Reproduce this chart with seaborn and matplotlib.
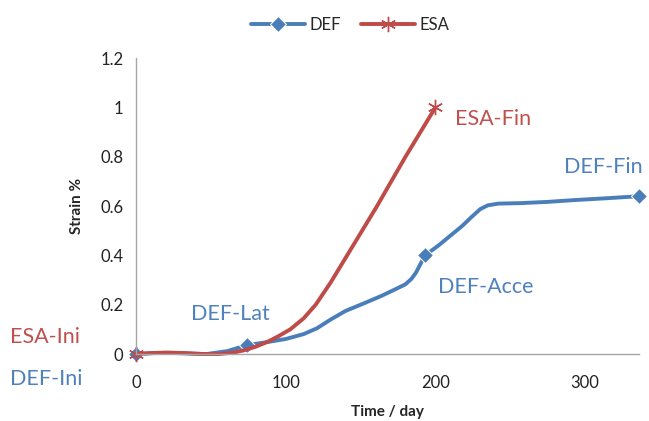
import matplotlib
matplotlib.use('Agg')
import matplotlib.pyplot as plt
import seaborn as sns
import pandas as pd

# DEF series
def_day = [0, 12, 23, 35, 47, 61, 74, 86, 100, 112, 121, 130, 140, 152, 164, 174, 180, 184, 187, 193,
           202, 210, 218, 224, 230, 235, 242, 257, 275, 292, 315, 336]
def_strain = [0, 0.004, 0.005, 0.002, 0.0, 0.012, 0.036, 0.047, 0.061, 0.081, 0.105, 0.14, 0.175, 0.205,
              0.236, 0.265, 0.283, 0.305, 0.33, 0.40, 0.44, 0.48, 0.52, 0.555, 0.588, 0.603, 0.61, 0.612,
              0.617, 0.624, 0.632, 0.64]
def_marks = [0, 6, 19, 31]

# ESA series
esa_day = [0, 10, 20, 33, 45, 55, 65, 72, 80, 88, 95, 103, 112, 120, 130, 141, 151, 161, 170, 180, 190, 200]
esa_strain = [0, 0.004, 0.006, 0.004, 0.0, 0.0, 0.006, 0.015, 0.03, 0.05, 0.072, 0.10, 0.145, 0.20,
              0.29, 0.40, 0.50, 0.60, 0.695, 0.80, 0.90, 1.0]
esa_marks = [0, 21]

labels = [('ESA-Fin', 213, 0.955, '#C0504D'),
          ('DEF-Fin', 286, 0.758, '#4F81BD'),
          ('DEF-Acce', 202, 0.272, '#4F81BD'),
          ('DEF-Lat', 37, 0.162, '#4F81BD'),
          ('ESA-Ini', -84, 0.068, '#C0504D'),
          ('DEF-Ini', -84, -0.10, '#4F81BD')]

sns.set_style('white')
plt.rcParams['font.family'] = ['Lato', 'DejaVu Sans']

fig = plt.figure(figsize=(6.49, 4.21), dpi=100)
ax = fig.add_axes([0.2096, 0.159, 0.775, 0.703])

df_def = pd.DataFrame({'day': def_day, 'strain': def_strain})
df_esa = pd.DataFrame({'day': esa_day, 'strain': esa_strain})

sns.lineplot(data=df_def, x='day', y='strain', ax=ax, sort=False, color='#4A7EBB', lw=2.8,
             marker='D', markersize=8.5, markevery=def_marks, label='DEF', clip_on=False)
sns.lineplot(data=df_esa, x='day', y='strain', ax=ax, sort=False, color='#BE4B48', lw=2.8,
             marker=(6, 2, 0), markersize=11, markeredgewidth=1.0, markeredgecolor='#BE4B48',
             markevery=esa_marks, label='ESA', clip_on=False)

for txt, x, y, c in labels:
    ax.text(x, y, txt, color=c, fontsize=15.5, va='center', ha='left', clip_on=False)

ax.set_xlim(0, 336)
ax.set_ylim(0, 1.2)
ax.set_xticks([0, 100, 200, 300])
ax.set_yticks([0, 0.2, 0.4, 0.6, 0.8, 1.0, 1.2])
ax.set_yticklabels(['0', '0.2', '0.4', '0.6', '0.8', '1', '1.2'])
ax.set_xlabel('Time / day', fontsize=11, fontweight='bold', labelpad=10)
ax.set_ylabel('Strain %', fontsize=11, fontweight='bold', labelpad=12)

for s in ['top', 'right']:
    ax.spines[s].set_visible(False)
for s in ['left', 'bottom']:
    ax.spines[s].set_color('#A6A6A6')
    ax.spines[s].set_linewidth(1)
ax.tick_params(axis='both', which='major', direction='out', length=5, width=1,
               color='#A6A6A6', labelsize=12, labelcolor='#222222', pad=4)
ax.tick_params(axis='x', pad=10)

ax.legend(loc='upper center', bbox_to_anchor=(0.54, 0.995), bbox_transform=fig.transFigure,
          ncol=2, frameon=False, fontsize=12, handlelength=3.2, columnspacing=1.2,
          handletextpad=0.3)

fig.savefig('out.png', dpi=100)
